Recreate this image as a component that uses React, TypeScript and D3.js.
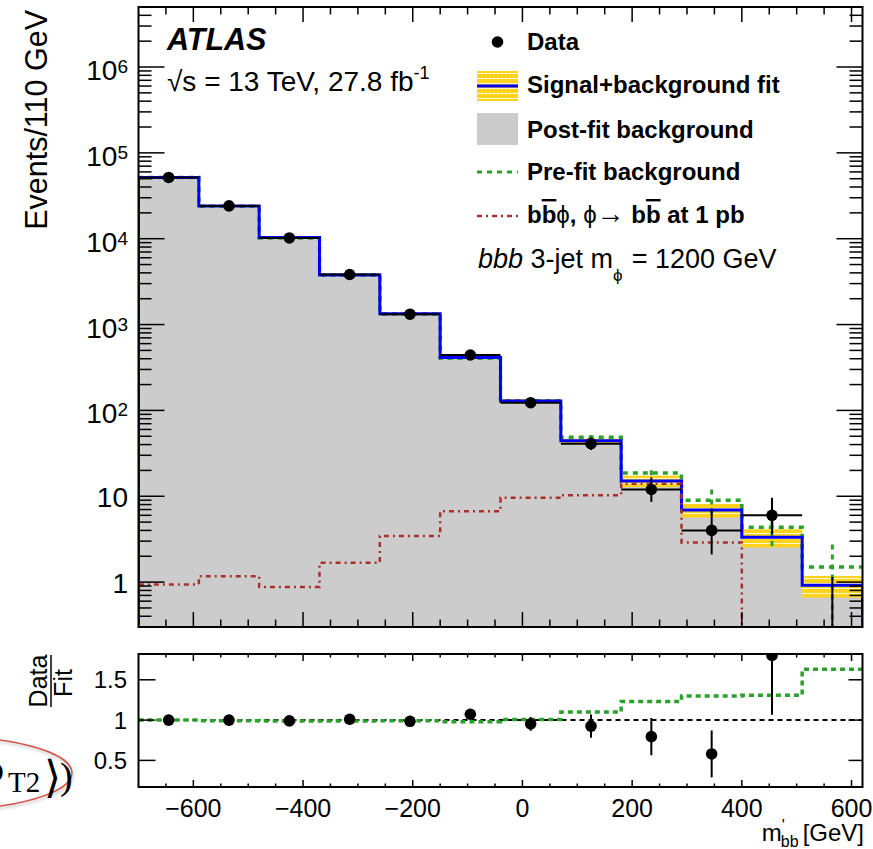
import React from 'react';
import * as d3 from 'd3';

// Binning of m'_bb (110 GeV bins)
const binEdges = [-700, -590, -480, -370, -260, -150, -40, 70, 180, 290, 400, 510, 620];
const binCenters = [-645, -535, -425, -315, -205, -95, 15, 125, 235, 345, 455, 565];

// Observed events and their (Poisson) uncertainties
const dataCounts = [51700, 24100, 10200, 3830, 1320, 442, 123, 41, 12, 4, 6, 0];
const dataErrUp = [228, 156, 102, 63, 37, 22, 12, 7.4, 4.6, 3.2, 3.6, 1.15];
const dataErrDown = [227, 155, 101, 62, 36, 21, 11, 6.4, 3.4, 1.9, 2.4, 0];

// Signal+background fit, its uncertainty band and the post-fit background
const sbFit = [51700, 24100, 10300, 3790, 1340, 412, 129, 44.3, 15.1, 6.9, 3.33, 0.92];
const sbFitErr = [1000, 500, 200, 110, 40, 16, 6.5, 3.5, 2.3, 1.25, 0.8, 0.26];
const postFitBkg = [51700, 24100, 10300, 3790, 1340, 412, 129, 44.3, 15.1, 6.9, 3.33, 0.92];

// Pre-fit background prediction with its uncertainties
const preFitBkg = [51700, 23900, 10200, 3750, 1330, 404, 130, 48.7, 18.6, 8.97, 4.36, 1.5];
const preFitErrUp = [0, 0, 0, 0, 0, 0, 0, 3, 1.5, 3, 0.8, 1.25];
const preFitErrDown = [0, 0, 0, 0, 0, 0, 0, 3, 1.5, 3, 2.0, 1.5];

// b b-bar phi signal, normalised to 1 pb
const signal1pb = [0.94, 1.17, 0.875, 1.68, 3.44, 6.7, 9.6, 10.3, 14, 2.9, 0, 0];

// Statistical uncertainty on Data/Fit
const ratioErr = [0.004, 0.006, 0.01, 0.016, 0.027, 0.05, 0.086, 0.145, 0.23, 0.29, 0.735, 0];

// Axis ticks
const xTickLabels = [-600, -400, -200, 0, 200, 400, 600];
const yDecades = [0, 1, 2, 3, 4, 5, 6];
const ratioTicks = [0.5, 1, 1.5];

const W = 873;
const H = 849;
const FONT = "'Liberation Sans', Arial, Helvetica, sans-serif";

const left = 138.5;
const right = 862.5;
const mainTop = 7;
const mainBottom = 627;
const ratioTop = 654;
const ratioBottom = 787;

const Y_MIN = 0.3;
const Y_MAX = 5e6;

const x = d3.scaleLinear().domain([-700, 620]).range([left, right]);
const y = d3.scaleLog().domain([Y_MIN, Y_MAX]).range([mainBottom, mainTop]);
const yr = d3.scaleLinear().domain([0.17, 1.82]).range([ratioBottom, ratioTop]);

const yv = (v: number) => (v <= Y_MIN ? mainBottom + 2 : y(v));

const stepLine = d3
  .line<[number, number]>()
  .x((d) => x(d[0]))
  .y((d) => yv(d[1]))
  .curve(d3.curveStepAfter);

function histPath(vals: number[], closeToBase: boolean) {
  const pts: [number, number][] = [];
  if (closeToBase) pts.push([binEdges[0], 0]);
  vals.forEach((v, i) => pts.push([binEdges[i], v]));
  pts.push([binEdges[binEdges.length - 1], vals[vals.length - 1]]);
  if (closeToBase) pts.push([binEdges[binEdges.length - 1], 0]);
  return stepLine(pts) || '';
}

const histArea = d3
  .area<[number, number]>()
  .x((d) => x(d[0]))
  .y0(mainBottom)
  .y1((d) => yv(d[1]))
  .curve(d3.curveStepAfter);

function ratioStepPath(vals: number[]) {
  const pts: [number, number][] = vals.map((v, i) => [binEdges[i], v]);
  pts.push([binEdges[binEdges.length - 1], vals[vals.length - 1]]);
  return (
    d3
      .line<[number, number]>()
      .x((d) => x(d[0]))
      .y((d) => yr(d[1]))
      .curve(d3.curveStepAfter)(pts) || ''
  );
}

const GREEN = '#2ca02c';
const BLUE = '#0000ff';
const RED = '#a8302c';
const GREY = '#cccccc';

export default function App() {
  const grayPts: [number, number][] = postFitBkg.map((v, i) => [binEdges[i], v]);
  grayPts.push([binEdges[binEdges.length - 1], postFitBkg[postFitBkg.length - 1]]);

  // log minor ticks
  const yTicks: { v: number; major: boolean }[] = [];
  for (let k = -1; k <= 6; k++) {
    for (let m = 1; m <= 9; m++) {
      const v = m * Math.pow(10, k);
      if (v >= Y_MIN && v <= Y_MAX) yTicks.push({ v, major: m === 1 });
    }
  }
  const xTicks: { v: number; major: boolean }[] = d3
    .range(-650, 621, 50)
    .map((v) => ({ v, major: v % 200 === 0 }));

  const ratioVals = dataCounts.map((d, i) => d / sbFit[i]);
  const preFitRatio = preFitBkg.map((p, i) => p / sbFit[i]);

  return (
    <svg
      width={W}
      height={H}
      viewBox={`0 0 ${W} ${H}`}
      style={{ position: 'absolute', left: 0, top: 0, background: '#fff' }}
      fontFamily={FONT}
    >
      <defs>
        <clipPath id="mainClip">
          <rect x={left} y={mainTop} width={right - left} height={mainBottom - mainTop} />
        </clipPath>
        <clipPath id="ratioClip">
          <rect x={left} y={ratioTop} width={right - left} height={ratioBottom - ratioTop} />
        </clipPath>
        <pattern id="fitBand" width="4" height="5" patternUnits="userSpaceOnUse">
          <rect width="4" height="5" fill="#ffd21a" />
          <rect y="3" width="4" height="1" fill="#fff3b0" />
          <circle cx="2" cy="3.5" r="0.8" fill="#ffffff" />
        </pattern>
        <filter id="shadow" x="-20%" y="-20%" width="140%" height="140%">
          <feDropShadow dx="1" dy="2" stdDeviation="1.5" floodColor="#000" floodOpacity="0.25" />
        </filter>
      </defs>

      {/* ---------- main panel ---------- */}
      <g clipPath="url(#mainClip)">
        <path d={histArea(grayPts) || ''} fill={GREY} />
        {sbFit.map((v, i) => (
          <rect
            key={`band${i}`}
            x={x(binEdges[i])}
            width={x(binEdges[i + 1]) - x(binEdges[i])}
            y={yv(v + sbFitErr[i])}
            height={yv(Math.max(v - sbFitErr[i], 1e-9)) - yv(v + sbFitErr[i])}
            fill="url(#fitBand)"
          />
        ))}
        <path d={histPath(preFitBkg, false)} fill="none" stroke={GREEN} strokeWidth={3.5} strokeDasharray="5,5" />
        {preFitBkg.map((v, i) =>
          preFitErrUp[i] > 0 ? (
            <line
              key={`pe${i}`}
              x1={x(binCenters[i])}
              x2={x(binCenters[i])}
              y1={yv(v + preFitErrUp[i])}
              y2={yv(v - preFitErrDown[i])}
              stroke={GREEN}
              strokeWidth={3}
              strokeDasharray="5,5"
            />
          ) : null
        )}
        <path d={histPath(sbFit, true)} fill="none" stroke={BLUE} strokeWidth={3} />
        <path d={histPath(signal1pb, true)} fill="none" stroke={RED} strokeWidth={2.5} strokeDasharray="5,4,2,4" />
        {dataCounts.map((v, i) => (
          <g key={`d${i}`}>
            <line x1={x(binEdges[i])} x2={x(binEdges[i + 1])} y1={yv(v)} y2={yv(v)} stroke="#000" strokeWidth={2} />
            <line
              x1={x(binCenters[i])}
              x2={x(binCenters[i])}
              y1={yv(v + dataErrUp[i])}
              y2={yv(v - dataErrDown[i])}
              stroke="#000"
              strokeWidth={2}
            />
            {v > Y_MIN ? <circle cx={x(binCenters[i])} cy={yv(v)} r={5.8} fill="#000" /> : null}
          </g>
        ))}
      </g>

      {/* main panel ticks */}
      {yTicks.map((t, i) => (
        <g key={`yt${i}`} stroke="#000" strokeWidth={1.5}>
          <line x1={left} x2={left + (t.major ? 26 : 13)} y1={y(t.v)} y2={y(t.v)} />
          <line x1={right} x2={right - (t.major ? 26 : 13)} y1={y(t.v)} y2={y(t.v)} />
        </g>
      ))}
      {xTicks.map((t, i) => (
        <g key={`xt${i}`} stroke="#000" strokeWidth={1.5}>
          <line x1={x(t.v)} x2={x(t.v)} y1={mainBottom} y2={mainBottom - (t.major ? 15 : 7.5)} />
          <line x1={x(t.v)} x2={x(t.v)} y1={mainTop} y2={mainTop + (t.major ? 15 : 7.5)} />
        </g>
      ))}
      <rect
        x={left}
        y={mainTop}
        width={right - left}
        height={mainBottom - mainTop}
        fill="none"
        stroke="#000"
        strokeWidth={2}
      />

      {/* y tick labels */}
      {yDecades.map((k) => (
        <text
          key={`yl${k}`}
          x={128}
          y={y(Math.pow(10, k)) + (k >= 2 ? 13 : 10.5)}
          textAnchor="end"
          fontSize={28}
          fill="#000"
        >
          {k === 0 ? '1' : '10'}
          {k >= 2 ? (
            <tspan dy={-7} fontSize={19}>
              {k}
            </tspan>
          ) : null}
        </text>
      ))}
      <text transform="translate(47,10) rotate(-90)" textAnchor="end" fontSize={30.5} fill="#000">
        Events/110 GeV
      </text>

      {/* ATLAS label */}
      <text x={167} y={50} fontSize={30.5} fontWeight="bold" fontStyle="italic" fill="#000">
        ATLAS
      </text>
      <text x={167} y={91} fontSize={28} fill="#000">
        √s = 13 TeV, 27.8 fb
        <tspan dy={-12} fontSize={18}>
          -1
        </tspan>
      </text>

      {/* legend */}
      <g fontSize={24} fontWeight="bold" fill="#000">
        <circle cx={497.5} cy={42} r={5.8} fill="#000" />
        <text x={527} y={50}>Data</text>

        <rect x={477} y={71} width={41} height={30} fill="url(#fitBand)" />
        <line x1={477} x2={518} y1={86} y2={86} stroke={BLUE} strokeWidth={3} />
        <text x={527} y={93}>Signal+background fit</text>

        <rect x={477} y={113} width={41} height={32} fill={GREY} />
        <text x={527} y={138}>Post-fit background</text>

        <line x1={477} x2={518} y1={172} y2={172} stroke={GREEN} strokeWidth={3} strokeDasharray="5,5" />
        <text x={527} y={180}>Pre-fit background</text>

        <line x1={477} x2={518} y1={216} y2={216} stroke={RED} strokeWidth={2.5} strokeDasharray="5,4,2,4" />
        <text x={527} y={223}>
          b<tspan style={{ textDecoration: 'overline' }}>b</tspan>
          <tspan fontWeight="normal">ϕ</tspan>, <tspan fontWeight="normal">ϕ</tspan>
          <tspan fontWeight="normal" fontSize={28}>→</tspan> b
          <tspan style={{ textDecoration: 'overline' }}>b</tspan> at 1 pb
        </text>
      </g>
      <text x={478} y={268} fontSize={27} fill="#000">
        <tspan fontStyle="italic">bbb</tspan> 3-jet m
        <tspan dy={13} fontSize={17}>
          ϕ
        </tspan>
        <tspan dy={-13} dx={9}>
          = 1200 GeV
        </tspan>
      </text>

      {/* ---------- ratio panel ---------- */}
      <g clipPath="url(#ratioClip)">
        <line x1={left} x2={right} y1={yr(1)} y2={yr(1)} stroke="#000" strokeWidth={2} strokeDasharray="5,4" />
        <path d={ratioStepPath(preFitRatio)} fill="none" stroke={GREEN} strokeWidth={3.5} strokeDasharray="5,4" />
        {ratioVals.map((r, i) => (
          <g key={`r${i}`}>
            <line
              x1={x(binCenters[i])}
              x2={x(binCenters[i])}
              y1={yr(r + ratioErr[i])}
              y2={yr(r - ratioErr[i])}
              stroke="#000"
              strokeWidth={2}
            />
            <circle cx={x(binCenters[i])} cy={yr(r)} r={5.8} fill="#000" />
          </g>
        ))}
      </g>
      {xTicks.map((t, i) => (
        <g key={`rxt${i}`} stroke="#000" strokeWidth={1.5}>
          <line x1={x(t.v)} x2={x(t.v)} y1={ratioBottom} y2={ratioBottom - (t.major ? 7 : 3.5)} />
          <line x1={x(t.v)} x2={x(t.v)} y1={ratioTop} y2={ratioTop + (t.major ? 7 : 3.5)} />
        </g>
      ))}
      {ratioTicks.map((t) => (
        <g key={`ryt${t}`} stroke="#000" strokeWidth={1.5}>
          <line x1={left} x2={left + 17} y1={yr(t)} y2={yr(t)} />
          <line x1={right} x2={right - 14} y1={yr(t)} y2={yr(t)} />
        </g>
      ))}
      <rect
        x={left}
        y={ratioTop}
        width={right - left}
        height={ratioBottom - ratioTop}
        fill="none"
        stroke="#000"
        strokeWidth={2}
      />
      {ratioTicks.map((t) => (
        <text key={`ryl${t}`} x={127} y={yr(t) + 8.5} textAnchor="end" fontSize={24} fill="#000">
          {String(t)}
        </text>
      ))}
      {xTickLabels.map((t) => (
        <text key={`xl${t}`} x={x(t)} y={816.5} textAnchor="middle" fontSize={25} fill="#000">
          {t < 0 ? `\u2212${Math.abs(t)}` : String(t)}
        </text>
      ))}
      <text x={864} y={841} textAnchor="end" fontSize={24} fill="#000">
        m
        <tspan dy={-10} fontSize={16}>
          '
        </tspan>
        <tspan dy={16} dx={-4} fontSize={16}>
          bb
        </tspan>
        <tspan dy={-6} dx={4}>
          [GeV]
        </tspan>
      </text>

      {/* Data / Fit ratio title */}
      <g fontSize={25} fill="#000">
        <text transform="translate(47,681) rotate(-90)" textAnchor="middle">
          Data
        </text>
        <line x1={51} x2={51} y1={655} y2={707} stroke="#000" strokeWidth={1.5} />
        <text transform="translate(72,683) rotate(-90)" textAnchor="middle">
          Fit
        </text>
      </g>

      {/* circled annotation at the lower left */}
      <ellipse cx={-60} cy={773} rx={132} ry={37} fill="none" stroke="#d0574f" strokeWidth={1.5} filter="url(#shadow)" />
      <g fontFamily="'Liberation Serif', 'DejaVu Serif', serif" fill="#000">
        <text x={-14} y={781} fontSize={36}>
          p
        </text>
        <text x={8} y={792} fontSize={29}>
          T2
        </text>
        <text x={44} y={792} fontSize={44} fontFamily="'DejaVu Serif', serif">
          ⟩
        </text>
        <text x={60} y={789} fontSize={38}>
          )
        </text>
      </g>
    </svg>
  );
}
